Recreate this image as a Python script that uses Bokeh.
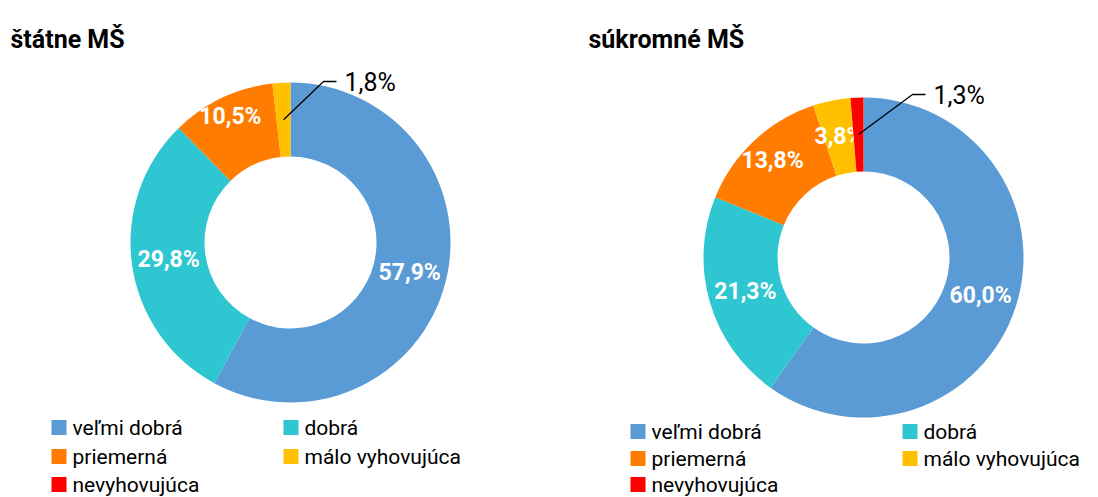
import numpy as np
from bokeh.plotting import figure
from bokeh.models import Range1d
from bokeh.core.properties import value
from bokeh.embed import file_html
from bokeh.resources import INLINE

# ---- data ----
categories = ["veľmi dobrá", "dobrá", "priemerná", "málo vyhovujúca", "nevyhovujúca"]
statne = [57.9, 29.8, 10.5, 1.8, 0.0]
sukromne = [60.0, 21.3, 13.8, 3.8, 1.3]
titles = ["štátne MŠ", "súkromné MŠ"]

# ---- style ----
colors = ["#5B9BD5", "#2EC6D1", "#FF7C00", "#FFC000", "#FF0000"]
FONT = "Roboto"
W, H = 1098, 497
TOP = 497  # flip y: data y = TOP - pixel y

p = figure(width=W, height=H, x_range=Range1d(0, W), y_range=Range1d(TOP - H, TOP),
           output_backend="svg", toolbar_location=None, min_border=0)
p.axis.visible = False
p.grid.visible = False
p.outline_line_color = None
p.background_fill_color = "white"
p.border_fill_color = "white"

pies = [
    dict(vals=statne, title=titles[0], title_x=10, title_y=39, cx=290, cy=242,
         label_r={2: 140}, callout=(33, -161),
         leg_x=(51, 283), leg_y=(427, 456, 484)),
    dict(vals=sukromne, title=titles[1], title_x=588, title_y=39, cx=863, cy=257,
         label_r={2: 133}, callout=(49, -163),
         leg_x=(630, 902), leg_y=(431, 458, 484)),
]

R_IN, R_OUT, R_LAB = 86, 160, 123

def fmt(v):
    return f"{v:.1f}".replace(".", ",") + "%"

for pie in pies:
    vals = np.array(pie["vals"], dtype=float)
    frac = vals / vals.sum()
    cum = np.concatenate([[0], np.cumsum(frac)])
    cx, cy = pie["cx"], TOP - pie["cy"]
    for i, v in enumerate(vals):
        if v <= 0:
            continue
        a0 = np.pi / 2 - 2 * np.pi * cum[i + 1]
        a1 = np.pi / 2 - 2 * np.pi * cum[i]
        p.annular_wedge(x=cx, y=cy, inner_radius=R_IN, outer_radius=R_OUT,
                        start_angle=a0, end_angle=a1, fill_color=colors[i], line_color=None)
        mid = np.pi / 2 - 2 * np.pi * (cum[i] + cum[i + 1]) / 2
        if v >= 3:
            r = pie["label_r"].get(i, R_LAB)
            p.text(x=[cx + r * np.cos(mid)], y=[cy + r * np.sin(mid)], text=[fmt(v)],
                   text_font=value(FONT), text_font_style="bold", text_font_size="23px",
                   text_color="white", text_align="center", text_baseline="middle")
        else:
            sx, sy = cx + R_LAB * np.cos(mid), cy + R_LAB * np.sin(mid)
            ex, ey = cx + pie["callout"][0], cy - pie["callout"][1]
            p.line(x=[sx, ex, ex + 13], y=[sy, ey, ey], line_color="black", line_width=1.3)
            p.text(x=[ex + 21], y=[ey - 1], text=[fmt(v)], text_font=value(FONT),
                   text_font_size="25px", text_color="black", text_align="left",
                   text_baseline="middle")
    # title
    p.text(x=[pie["title_x"]], y=[TOP - pie["title_y"]], text=[pie["title"]], text_font=value(FONT),
           text_font_style="bold", text_font_size="25px", text_color="black",
           text_align="left", text_baseline="alphabetic")
    # legend
    for i, cat in enumerate(categories):
        col, row = i % 2, i // 2
        lx = pie["leg_x"][col]
        ly = TOP - pie["leg_y"][row]
        p.rect(x=[lx + 7.5], y=[ly], width=15, height=15, fill_color=colors[i], line_color=None)
        p.text(x=[lx + 21], y=[ly], text=[cat], text_font=value(FONT), text_font_size="21px",
               text_color="black", text_align="left", text_baseline="middle")

open("out.html", "w").write(file_html(p, INLINE))
